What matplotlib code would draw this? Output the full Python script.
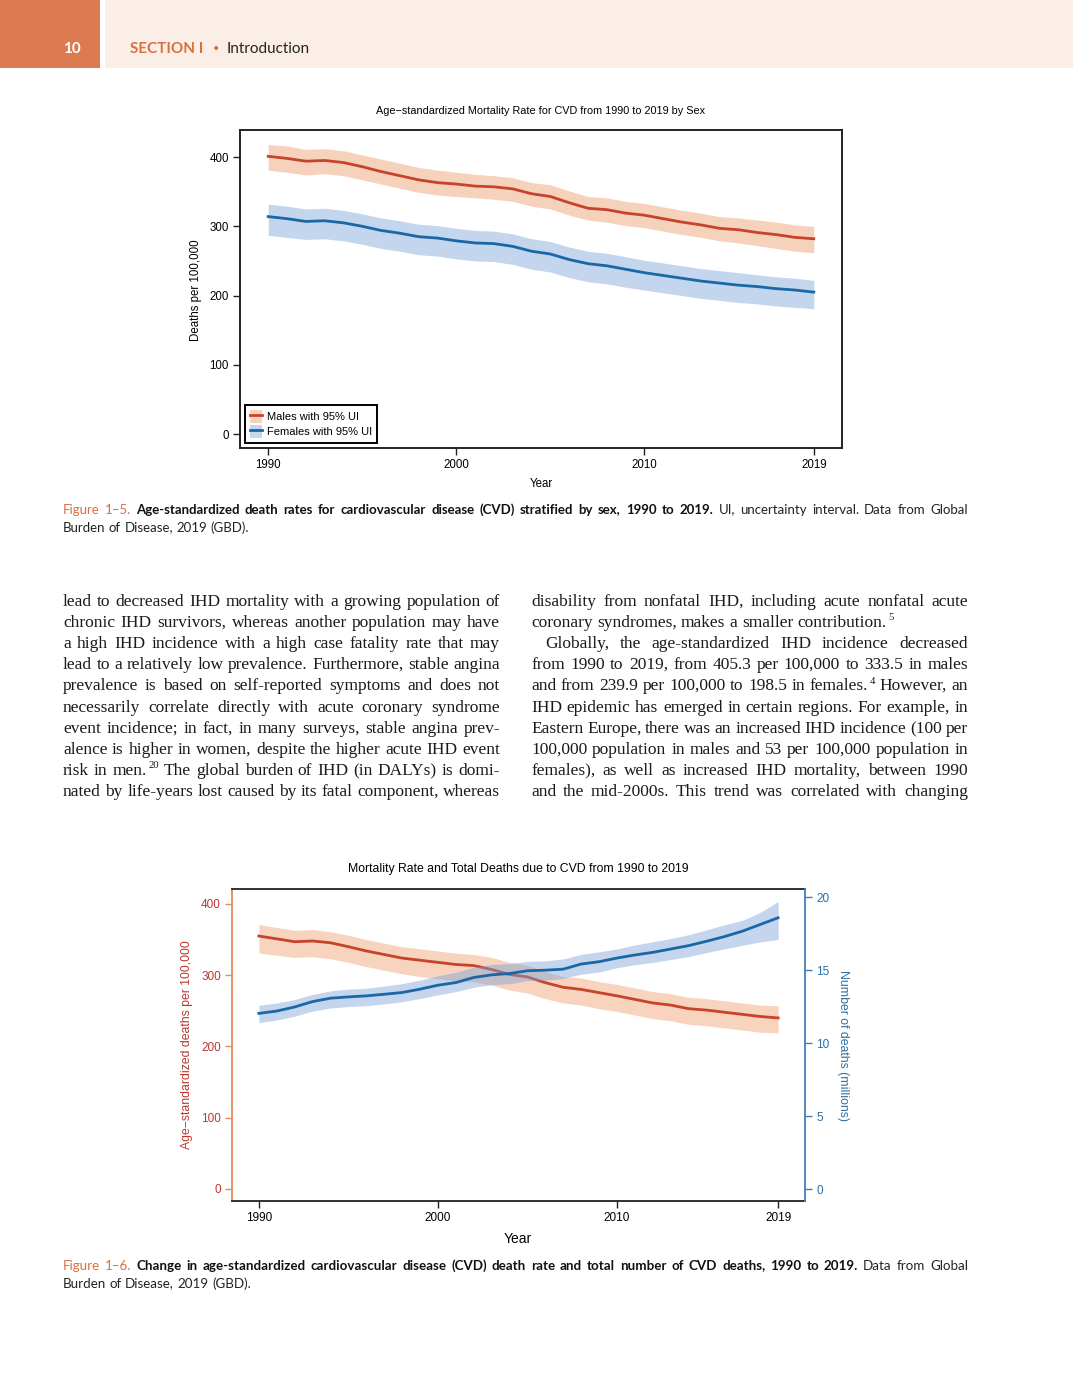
import math
import matplotlib
matplotlib.use("Agg")
import matplotlib.pyplot as plt
from matplotlib import font_manager
from matplotlib.font_manager import FontProperties
from matplotlib.patches import Rectangle, Patch
from matplotlib.lines import Line2D

W, H = 1073, 1373

# ---- data -------------------------------------------------------------------
years = list(range(1990, 2020))
year_ticks = [1990, 2000, 2010, 2019]

# Figure 1-5: age-standardized CVD mortality per 100,000 by sex
male_rate = [401, 398, 394, 395, 392, 386, 379, 373, 367, 363, 361, 358, 357, 354, 347,
             343, 334, 326, 324, 319, 316, 311, 306, 302, 297, 295, 291, 288, 284, 282]
male_hi = [418, 416, 411, 412, 409, 403, 397, 391, 385, 381, 378, 375, 373, 370, 363,
           360, 351, 343, 341, 336, 333, 328, 323, 319, 314, 312, 309, 306, 302, 300]
male_lo = [381, 378, 374, 376, 373, 367, 361, 355, 349, 345, 343, 341, 339, 336, 329,
           325, 316, 309, 306, 301, 298, 293, 288, 284, 279, 276, 272, 268, 264, 262]
female_rate = [314, 311, 307, 308, 305, 300, 294, 290, 285, 283, 279, 276, 275, 271, 264,
               260, 252, 246, 243, 238, 233, 229, 225, 221, 218, 215, 213, 210, 208, 205]
female_hi = [332, 329, 325, 326, 323, 318, 312, 308, 303, 301, 297, 294, 293, 289, 282,
             278, 270, 264, 261, 256, 251, 247, 243, 239, 236, 233, 230, 227, 225, 222]
female_lo = [287, 284, 281, 282, 279, 274, 268, 264, 259, 257, 253, 250, 249, 245, 238,
             234, 226, 220, 217, 212, 208, 204, 200, 196, 193, 190, 188, 185, 183, 181]

# Figure 1-6: overall rate (left axis) and total deaths in millions (right axis)
all_rate = [355, 351, 347, 348, 345.5, 340, 334, 329, 324, 321, 318, 315, 313.5, 308, 301,
            297.5, 289.5, 283, 280, 275.5, 271, 266, 261, 258, 253, 251, 248, 245, 242, 240]
all_hi = [371, 367, 363, 364, 361, 356, 350, 345, 340, 337, 334, 331, 329, 325, 318,
          314, 305, 298, 296, 291, 287, 282, 277, 274, 269, 267, 264, 261, 258, 257]
all_lo = [331, 328, 325, 326, 323, 318, 312, 307, 302, 298, 295, 292, 291, 286, 279,
          275, 267, 261, 258, 253, 249, 244, 239, 236, 231, 229, 226, 223, 220, 219]
deaths = [12.03, 12.19, 12.47, 12.84, 13.07, 13.16, 13.23, 13.34, 13.46, 13.69, 13.96, 14.14,
          14.49, 14.67, 14.76, 14.95, 14.99, 15.06, 15.41, 15.57, 15.82, 16.03, 16.21, 16.44,
          16.67, 16.97, 17.29, 17.66, 18.12, 18.58]
deaths_hi = [12.58, 12.74, 12.98, 13.33, 13.57, 13.69, 13.75, 13.90, 14.07, 14.31, 14.60, 14.85,
             15.18, 15.38, 15.45, 15.59, 15.63, 15.76, 16.08, 16.25, 16.44, 16.72, 16.93, 17.16,
             17.42, 17.75, 18.10, 18.40, 18.95, 19.70]
deaths_lo = [11.40, 11.58, 11.84, 12.18, 12.40, 12.50, 12.56, 12.68, 12.83, 13.05, 13.30, 13.52,
             13.82, 14.00, 14.06, 14.28, 14.30, 14.42, 14.72, 14.86, 15.16, 15.36, 15.52, 15.72,
             15.92, 16.20, 16.45, 16.70, 16.92, 17.10]

rate_ticks = [0, 100, 200, 300, 400]
death_ticks = [0, 5, 10, 15, 20]

left_lines = [
    "lead to decreased IHD mortality with a growing population of",
    "chronic IHD survivors, whereas another population may have",
    "a high IHD incidence with a high case fatality rate that may",
    "lead to a relatively low prevalence. Furthermore, stable angina",
    "prevalence is based on self-reported symptoms and does not",
    "necessarily correlate directly with acute coronary syndrome",
    "event incidence; in fact, in many surveys, stable angina prev-",
    "alence is higher in women, despite the higher acute IHD event",
    "risk in men.^20 The global burden of IHD (in DALYs) is domi-",
    "nated by life-years lost caused by its fatal component, whereas",
]
right_lines = [
    "disability from nonfatal IHD, including acute nonfatal acute",
    "coronary syndromes, makes a smaller contribution.^5",
    "Globally, the age-standardized IHD incidence decreased",
    "from 1990 to 2019, from 405.3 per 100,000 to 333.5 in males",
    "and from 239.9 per 100,000 to 198.5 in females.^4 However, an",
    "IHD epidemic has emerged in certain regions. For example, in",
    "Eastern Europe, there was an increased IHD incidence (100 per",
    "100,000 population in males and 53 per 100,000 population in",
    "females), as well as increased IHD mortality, between 1990",
    "and the mid-2000s. This trend was correlated with changing",
]

# ---- fonts ------------------------------------------------------------------
names = {f.name for f in font_manager.fontManager.ttflist}
SANS = "Liberation Sans"
SERIF = "Liberation Serif"
HEAD = "Lato" if "Lato" in names else "DejaVu Sans"
CAP = "Lato" if "Lato" in names else SANS


def cap_font(size, bold=False):
    return FontProperties(family=[CAP, "DejaVu Sans"], weight="bold" if bold else "normal",
                          size=size)


ORANGE = "#dc7a50"
RED = "#c7432b"
RED_BAND = "#f6d1bc"
BLUE = "#1a67a6"
BLUE_BAND = "#c4d5ee"

fig = plt.figure(figsize=(W / 100, H / 100), dpi=100)
renderer = fig.canvas.get_renderer()


def fx(x):
    return x / W


def fy(y):
    return 1 - y / H


def box(x0, y0, x1, y1):
    return [fx(x0), fy(y1), (x1 - x0) / W, (y1 - y0) / H]


def put(x, y, s, **kw):
    kw.setdefault("va", "baseline")
    return fig.text(fx(x), fy(y), s, **kw)


def width(t):
    return t.get_window_extent(renderer).width


_probe = fig.text(0, 0, "")


def measure(s, fp):
    _probe.set_text(s)
    _probe.set_fontproperties(fp)
    return _probe.get_window_extent(renderer).width


def snap_y(y, s, fp):
    """Agg rounds each text bitmap on its own, so words whose ink has fractional
    extents land a pixel off. Shift the anchor so every word sits on one baseline."""
    try:
        from matplotlib.backends.backend_agg import get_hinting_flag
        font = renderer._prepare_font(fp)
        font.set_text(s, 0, flags=get_hinting_flag())
        _, h = font.get_width_height()
        d = font.get_descent() / 64.0
        a = h / 64.0 - d
        return round(y) + math.floor(a + d) - math.floor(a) - d
    except Exception:
        return y


def draw_line(x0, x1, y, tokens, justify=True):
    """Per-word placement. tokens: (word, {'fp', 'color'}); 'word^sup' adds a superscript."""
    items = []
    total = 0
    for word, st in tokens:
        base, _, sup = word.partition("^")
        t = put(x0, snap_y(y, base, st["fp"]), base, fontproperties=st["fp"], color=st["color"])
        w = width(t)
        s = None
        if sup:
            sfp = st["fp"].copy()
            sfp.set_size(st["fp"].get_size() * 0.62)
            sy = snap_y(y - st["fp"].get_size() * 0.55, sup, sfp)
            s = put(x0, sy, sup, fontproperties=sfp, color=st["color"])
            w += width(s) + 1.5
        items.append((t, s, w))
        total += w
    fp0 = tokens[0][1]["fp"]
    space = measure("x x", fp0) - measure("xx", fp0)
    if justify and len(items) > 1:
        gap = max((x1 - x0 - total) / (len(items) - 1), 0.55 * space)
    else:
        gap = space
    x = x0
    for t, s, w in items:
        t.set_x(fx(x))
        if s is not None:
            s.set_x(fx(x + width(t) + 1.5))
        x += w + gap


# ---- running header -----------------------------------------------------------
fig.add_artist(Rectangle((fx(0), fy(68)), 100 / W, 68 / H, transform=fig.transFigure,
                         facecolor=ORANGE, edgecolor="none"))
fig.add_artist(Rectangle((fx(105), fy(68)), (W - 105) / W, 68 / H, transform=fig.transFigure,
                         facecolor="#fbeee6", edgecolor="none"))
put(81, 53, "10", fontsize=11, color="white", fontweight="bold", family=HEAD, ha="right")
put(130, 53, "SECTION I", fontsize=11, color="#d9703f", fontweight="bold", family=HEAD)
put(213, 52, "•", fontsize=8, color="#d9703f", family=HEAD)
put(227, 53, "Introduction", fontsize=11, color="#222222", family=HEAD)

# ---- Figure 1-5 -------------------------------------------------------------------
ax1 = fig.add_axes(box(240, 130, 842, 448))
ax1.fill_between(years, male_lo, male_hi, color=RED_BAND, lw=0)
ax1.fill_between(years, female_lo, female_hi, color=BLUE_BAND, lw=0)
ax1.plot(years, male_rate, color=RED, lw=2)
ax1.plot(years, female_rate, color=BLUE, lw=2)
ax1.set_xlim(1988.5, 2020.5)
ax1.set_ylim(-20, 439)
ax1.set_xticks(year_ticks)
ax1.set_yticks(rate_ticks)
ax1.tick_params(length=5, width=1, pad=3, color="#222222")
for lab in ax1.get_xticklabels() + ax1.get_yticklabels():
    lab.set_family(SANS)
    lab.set_fontsize(8.3)
for sp in ax1.spines.values():
    sp.set_linewidth(1.4)
    sp.set_color("#222222")
h_m = (Patch(facecolor=RED_BAND, edgecolor="none"), Line2D([], [], color=RED, lw=2))
h_f = (Patch(facecolor=BLUE_BAND, edgecolor="none"), Line2D([], [], color=BLUE, lw=2))
leg = ax1.legend([h_m, h_f], ["Males with 95% UI", "Females with 95% UI"],
                 loc="lower left", bbox_to_anchor=(0.0, 0.0), fancybox=False,
                 framealpha=1, edgecolor="black", borderpad=0.45, handlelength=1.1,
                 handleheight=1.4, handletextpad=0.45, labelspacing=0.2,
                 borderaxespad=0.45, prop={"family": SANS, "size": 8})
leg.get_frame().set_linewidth(1.4)
put(541, 114, "Age\u2212standardized Mortality Rate for CVD from 1990 to 2019 by Sex",
    fontsize=7.8, family=SANS, ha="center")
put(196, 290, "Deaths per 100,000", fontsize=8.3, family=SANS, rotation=90,
    ha="center", va="center")
put(541, 487, "Year", fontsize=8.3, family=SANS, ha="center")

# ---- Figure 1-6 -------------------------------------------------------------------
L_SPINE = "#e48a5a"
L_TEXT = "#b8382f"
R_SPINE = "#3f80b5"
R_TEXT = "#2b6fa6"

ax2 = fig.add_axes(box(232, 889, 805, 1201))
ax3 = ax2.twinx()
ax2.fill_between(years, all_lo, all_hi, color="#f0a070", alpha=0.45, lw=0)
ax2.plot(years, all_rate, color=RED, lw=2)
ax3.fill_between(years, deaths_lo, deaths_hi, color="#7ca2d9", alpha=0.45, lw=0)
ax3.plot(years, deaths, color=BLUE, lw=2)
ax2.set_xlim(1988.5, 2020.5)
ax2.set_ylim(-17, 421)
ax3.set_ylim(-0.82, 20.55)
ax2.set_xticks(year_ticks)
ax2.set_yticks(rate_ticks)
ax3.set_yticks(death_ticks)
ax2.tick_params(axis="x", length=5, width=1, pad=3, color="#222222")
ax2.tick_params(axis="y", length=5, width=1, pad=3, color=L_SPINE, labelcolor=L_TEXT)
ax3.tick_params(axis="y", length=5, width=1, pad=3, color=R_SPINE, labelcolor=R_TEXT)
for lab in ax2.get_xticklabels() + ax2.get_yticklabels() + ax3.get_yticklabels():
    lab.set_family(SANS)
    lab.set_fontsize(8.5)
for sp in ax2.spines.values():
    sp.set_linewidth(1.3)
    sp.set_color("#222222")
ax2.spines["left"].set_color(L_SPINE)
ax2.spines["right"].set_visible(False)
for k in ("left", "top", "bottom"):
    ax3.spines[k].set_visible(False)
ax3.spines["right"].set_color(R_SPINE)
ax3.spines["right"].set_linewidth(1.3)
put(518, 872, "Mortality Rate and Total Deaths due to CVD from 1990 to 2019",
    fontsize=8.8, family=SANS, ha="center")
put(187, 1045, "Age\u2212standardized deaths per 100,000", fontsize=8.8, family=SANS,
    rotation=90, ha="center", va="center", color=L_TEXT)
put(843, 1045, "Number of deaths (millions)", fontsize=8.8, family=SANS,
    rotation=-90, ha="center", va="center", color=R_TEXT)
put(518, 1243, "Year", fontsize=10, family=SANS, ha="center")


# ---- captions -------------------------------------------------------------------------
def caption(y, label, bold, rest):
    size = 9.4
    nat = (measure(label + " x", cap_font(size)) + measure(bold + " x", cap_font(size, True))
           + measure(rest, cap_font(size)))
    size = min(10.0, max(9.0, size * 905 * 0.975 / nat))
    toks = [(w, {"fp": cap_font(size), "color": "#d9703f"}) for w in label.split()]
    toks += [(w, {"fp": cap_font(size, True), "color": "#111111"}) for w in bold.split()]
    toks += [(w, {"fp": cap_font(size), "color": "#222222"}) for w in rest.split()]
    draw_line(63, 968, y, toks, justify=True)
    st = {"fp": cap_font(size), "color": "#222222"}
    draw_line(63, 968, y + 18, [(w, st) for w in "Burden of Disease, 2019 (GBD).".split()],
              justify=False)


caption(514, "Figure 1\u20135.",
        "Age-standardized death rates for cardiovascular disease (CVD) stratified by sex, 1990 to 2019.",
        "UI, uncertainty interval. Data from Global")
caption(1270, "Figure 1\u20136.",
        "Change in age-standardized cardiovascular disease (CVD) death rate and total number of CVD deaths, 1990 to 2019.",
        "Data from Global")

# ---- body text --------------------------------------------------------------------------
body = {"fp": FontProperties(family=[SERIF, "DejaVu Serif"], size=12.5), "color": "#1a1a1a"}
for i, line in enumerate(left_lines):
    draw_line(63, 500, 606 + i * 21.1, [(w, body) for w in line.split()], justify=True)
for i, line in enumerate(right_lines):
    x0 = 545 if i == 2 else 531
    draw_line(x0, 968, 606 + i * 21.1, [(w, body) for w in line.split()], justify=(i != 1))

_probe.set_text("")
fig.savefig("out.png", dpi=100)
